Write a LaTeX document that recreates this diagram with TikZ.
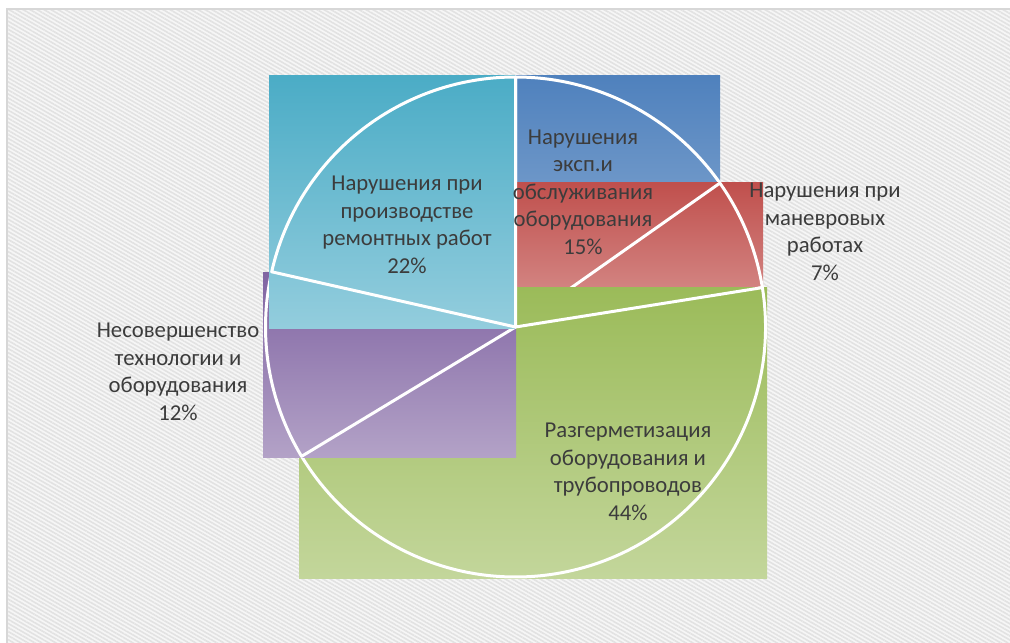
\documentclass[tikz,border=0pt]{standalone}
\usepackage{fontspec}
\setmainfont{Carlito}
\usetikzlibrary{patterns.meta}
\definecolor{txt}{RGB}{60,60,60}
\definecolor{stripe}{RGB}{226,226,226}
\definecolor{paper}{RGB}{246,246,246}
\definecolor{frameline}{RGB}{215,215,215}
\definecolor{blueA}{RGB}{79,129,189}\definecolor{blueB}{RGB}{149,179,215}
\definecolor{redA}{RGB}{192,80,77}\definecolor{redB}{RGB}{217,150,148}
\definecolor{greenA}{RGB}{155,187,89}\definecolor{greenB}{RGB}{195,214,155}
\definecolor{purpA}{RGB}{128,100,162}\definecolor{purpB}{RGB}{179,162,199}
\definecolor{cyanA}{RGB}{75,172,198}\definecolor{cyanB}{RGB}{147,205,221}
\tikzset{
  slicefill/.style n args={2}{top color=#1,bottom color=#2,draw=none},
  sliceedge/.style={draw=white,line width=3bp,line join=round},
  lbl/.style={text=txt,align=center,inner sep=0pt,font=\fontsize{22.8pt}{27.6pt}\selectfont}
}
\begin{document}
\begin{tikzpicture}[x=1bp,y=1bp]
\useasboundingbox (0,0) rectangle (1010,-643);
\fill[white] (0,0) rectangle (1010,-643);
\fill[paper] (7,-9) rectangle (1010,-643);
\fill[pattern={Lines[angle=-30,distance=3.5bp,line width=1.6bp]},pattern color=stripe] (7,-9) rectangle (1010,-643);
\draw[frameline,line width=1.5bp] (7,-643) -- (7,-9) -- (1010,-9);

\coordinate (c) at (515.5,-327);
\def\R{250}

% blue slice 35.15 -> 90
\fill[slicefill={blueA}{blueB}] (515,-76) rectangle (720,-327);
\draw[sliceedge] (c) -- ++(90:\R) arc[start angle=90,end angle=35.15,radius=\R] -- cycle;
% red slice 9.07 -> 35.15
\fill[slicefill={redA}{redB}] (515,-183) rectangle (763,-327);
\draw[sliceedge] (c) -- ++(35.15:\R) arc[start angle=35.15,end angle=9.07,radius=\R] -- cycle;
% green slice -148.84 -> 9.07
\fill[slicefill={greenA}{greenB}] (299,-287) rectangle (767,-578);
\draw[sliceedge] (c) -- ++(9.07:\R) arc[start angle=9.07,end angle=-148.84,radius=\R] -- cycle;
% purple slice 167.24 -> 211.16
\fill[slicefill={purpA}{purpB}] (263,-272) rectangle (516,-457);
\draw[sliceedge] (c) -- ++(211.16:\R) arc[start angle=211.16,end angle=167.24,radius=\R] -- cycle;
% cyan slice 90 -> 167.24
\fill[slicefill={cyanA}{cyanB}] (269,-76) rectangle (515,-328);
\draw[sliceedge] (c) -- ++(167.24:\R) arc[start angle=167.24,end angle=90,radius=\R] -- cycle;

\node[lbl] (lblue) at (583,-192) {Нарушения\\эксп.и\\обслуживания\\оборудования\\15\%};
\node[lbl] (lred) at (825,-232) {Нарушения при\\маневровых\\работах\\7\%};
\node[lbl] (lgreen) at (628,-472) {Разгерметизация\\оборудования и\\трубопроводов\\44\%};
\node[lbl] (lpurp) at (178,-372) {Несовершенство\\технологии и\\оборудования\\12\%};
\node[lbl] (lcyan) at (407,-225) {Нарушения при\\производстве\\ремонтных работ\\22\%};
\end{tikzpicture}
\end{document}
